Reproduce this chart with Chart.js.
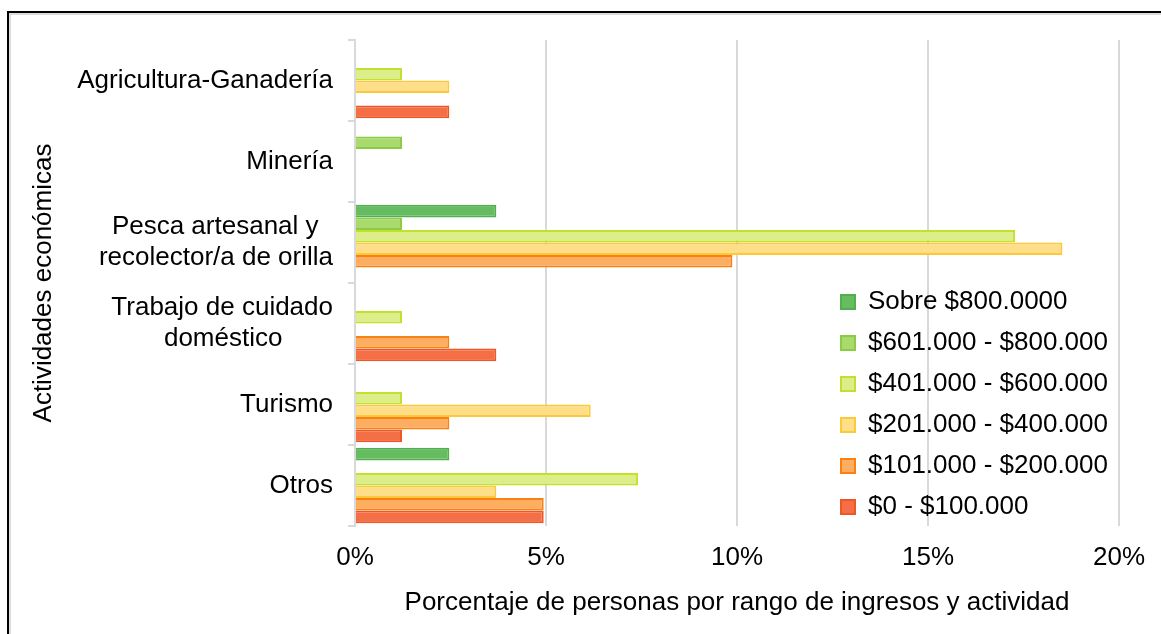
<!DOCTYPE html>
<html lang="es">
<head>
<meta charset="utf-8">
<title>Actividades económicas por rango de ingresos</title>
<script src="https://cdn.jsdelivr.net/npm/chart.js@4"></script>
<style>
    html, body { margin: 0; padding: 0; background: #fff; }
    #wrap { position: relative; width: 1161px; height: 634px; overflow: hidden; }
    #frame {
        position: absolute; left: 7px; top: 11px; width: 1300px; height: 800px;
        border-top: 2px solid #000; border-left: 2px solid #000;
        box-shadow: inset 2px 2px 0 #dcdcdc;
    }
    #chart { position: absolute; left: 0; top: 0; }
</style>
</head>
<body>
<div id="wrap">
    <div id="frame"></div>
    <canvas id="chart" width="1161" height="634"></canvas>
</div>
<script>
// Categories (top to bottom). Trailing spaces keep the short line centred under the long one
const activities = [
    'Agricultura-Ganadería',
    'Minería',
    ['Pesca artesanal y  ', 'recolector/a de orilla'],
    ['Trabajo de cuidado', 'doméstico       '],
    'Turismo',
    'Otros'
];

// Percent of people per income range and activity
const sobre800 = [0, 0, 3.70, 0, 0, 2.47];
const r601_800 = [0, 1.23, 1.23, 0, 0, 0];
const r401_600 = [1.23, 0, 17.28, 1.23, 1.23, 7.41];
const r201_400 = [2.47, 0, 18.52, 0, 6.17, 3.70];
const r101_200 = [0, 0, 9.88, 2.47, 2.47, 4.94];
const r0_100 = [2.47, 0, 0, 3.70, 1.23, 4.94];

const seriesNames = [
    'Sobre $800.0000',
    '$601.000 - $800.000',
    '$401.000 - $600.000',
    '$201.000 - $400.000',
    '$101.000 - $200.000',
    '$0 - $100.000'
];
const seriesValues = [sobre800, r601_800, r401_600, r201_400, r101_200, r0_100];
const fillColors = ['#66bd61', '#a9da6e', '#dbee8a', '#fede89', '#fdae61', '#f46f46'];
const lineColors = ['#52b04c', '#8ccb45', '#c2e12f', '#fcc93b', '#f98011', '#f05524'];

const xTicks = [0, 5, 10, 15, 20];

const FONT = "'Liberation Sans', Arial, sans-serif";
const FONT_SIZE = 26;
const GRID = '#d9d9d9';

// Put the legend inside the plot, on the right side
const legendPlacer = {
    id: 'legendPlacer',
    afterLayout(chart) {
        const lg = chart.legend;
        if (!lg) return;
        lg.left = 826;
        lg.right = lg.left + lg.width;
        lg.top = 274;
        lg.bottom = lg.top + lg.height;
    }
};

const datasets = seriesNames.map((name, i) => ({
    label: name,
    data: seriesValues[i],
    backgroundColor: fillColors[i],
    borderColor: lineColors[i],
    borderWidth: 2,
    barPercentage: 1.0,
    categoryPercentage: 0.93
}));

new Chart(document.getElementById('chart').getContext('2d'), {
    type: 'bar',
    data: { labels: activities, datasets: datasets },
    plugins: [legendPlacer],
    options: {
        indexAxis: 'y',
        responsive: false,
        animation: false,
        layout: { padding: { left: 20, top: 40, right: 41, bottom: 0 } },
        plugins: {
            legend: {
                position: 'chartArea',
                align: 'start',
                labels: {
                    boxWidth: 14,
                    boxHeight: 14,
                    padding: 15,
                    color: '#000',
                    font: { family: FONT, size: FONT_SIZE }
                }
            },
            tooltip: { enabled: false }
        },
        scales: {
            x: {
                min: 0,
                max: 20,
                afterFit: (scale) => { scale.height = 108; },
                afterBuildTicks: (scale) => { scale.ticks = xTicks.map(v => ({ value: v })); },
                grid: { color: GRID, lineWidth: 2, drawTicks: false },
                border: { display: false },
                ticks: {
                    padding: 16,
                    maxRotation: 0,
                    color: '#000',
                    font: { family: FONT, size: FONT_SIZE },
                    callback: (v) => v + '%'
                },
                title: {
                    display: true,
                    text: 'Porcentaje de personas por rango de ingresos y actividad',
                    color: '#000',
                    font: { family: FONT, size: FONT_SIZE },
                    padding: { top: 0, bottom: 16 }
                }
            },
            y: {
                afterFit: (scale) => { scale.width = 335; },
                grid: { color: GRID, lineWidth: 2, drawOnChartArea: false, tickLength: 7 },
                border: { display: true, color: GRID, width: 2 },
                ticks: {
                    autoSkip: false,
                    padding: 15,
                    color: '#000',
                    font: { family: FONT, size: FONT_SIZE, lineHeight: 1.2 }
                },
                title: {
                    display: true,
                    text: 'Actividades económicas',
                    color: '#000',
                    font: { family: FONT, size: FONT_SIZE },
                    padding: { top: 8, bottom: 0 }
                }
            }
        }
    }
});
</script>
</body>
</html>
